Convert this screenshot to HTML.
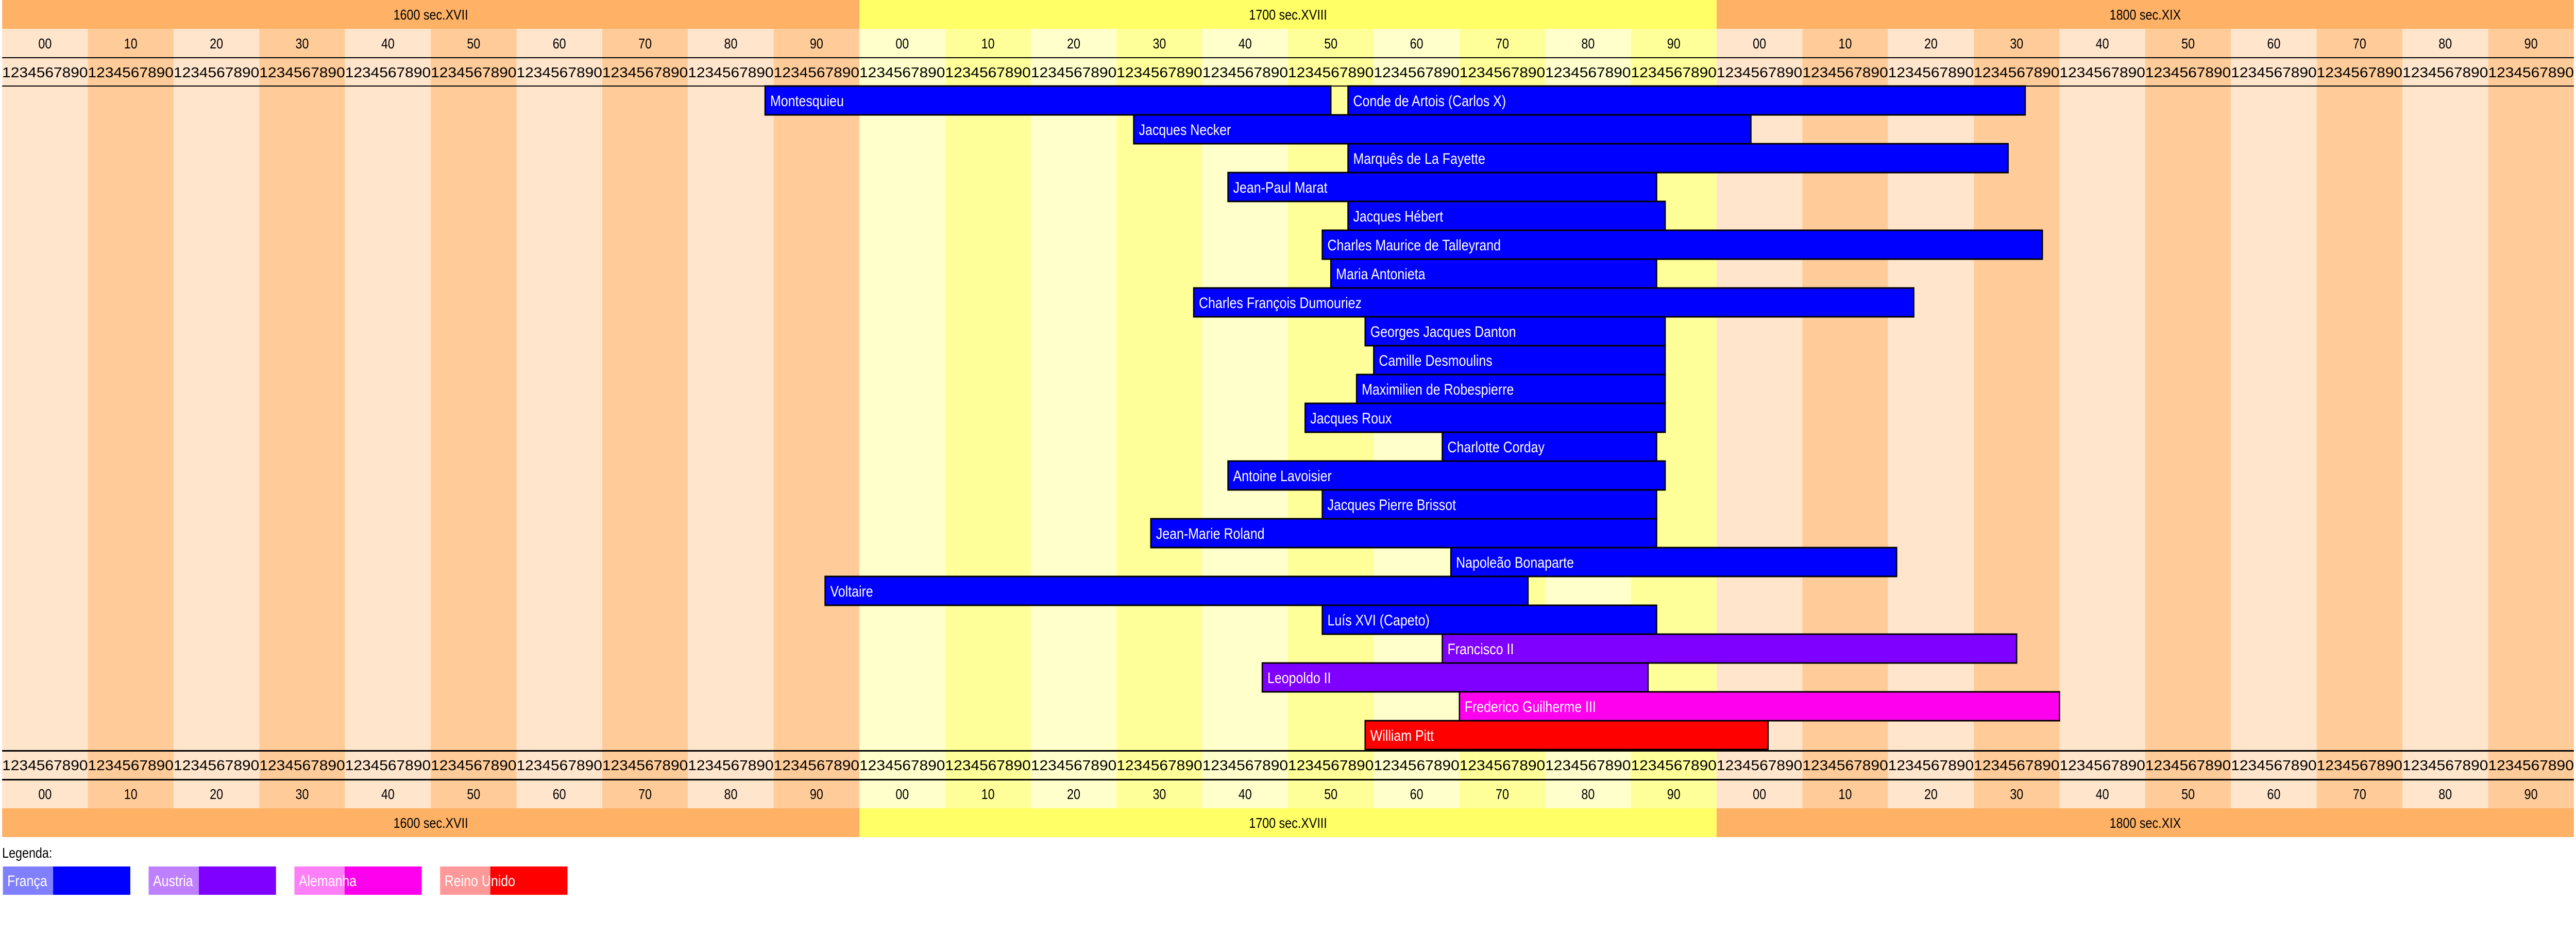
<!DOCTYPE html>
<html><head><meta charset="utf-8">
<style>html,body{margin:0;padding:0;background:#fff;overflow:hidden;width:100%;height:100%}svg{display:block;width:100vw;height:100vh}</style></head>
<body>
<svg xmlns="http://www.w3.org/2000/svg" viewBox="0 0 6010 1848" preserveAspectRatio="none" font-family="Liberation Sans, sans-serif">
<rect width="6010" height="1848" fill="#fff"/>
<rect x="5" y="0" width="2000" height="56" fill="#ffb266"/>
<rect x="2005" y="0" width="2000" height="56" fill="#ffff66"/>
<rect x="4005" y="0" width="2000" height="56" fill="#ffb266"/>
<rect x="5" y="1569" width="2000" height="56" fill="#ffb266"/>
<rect x="2005" y="1569" width="2000" height="56" fill="#ffff66"/>
<rect x="4005" y="1569" width="2000" height="56" fill="#ffb266"/>
<g>
<rect x="5" y="56" width="200" height="1513" fill="#ffe5cc"/><rect x="205" y="56" width="200" height="1513" fill="#ffcc99"/>
<rect x="405" y="56" width="200" height="1513" fill="#ffe5cc"/><rect x="605" y="56" width="200" height="1513" fill="#ffcc99"/>
<rect x="805" y="56" width="200" height="1513" fill="#ffe5cc"/><rect x="1005" y="56" width="200" height="1513" fill="#ffcc99"/>
<rect x="1205" y="56" width="200" height="1513" fill="#ffe5cc"/><rect x="1405" y="56" width="200" height="1513" fill="#ffcc99"/>
<rect x="1605" y="56" width="200" height="1513" fill="#ffe5cc"/><rect x="1805" y="56" width="200" height="1513" fill="#ffcc99"/>
<rect x="2005" y="56" width="200" height="1513" fill="#ffffcc"/><rect x="2205" y="56" width="200" height="1513" fill="#ffff99"/>
<rect x="2405" y="56" width="200" height="1513" fill="#ffffcc"/><rect x="2605" y="56" width="200" height="1513" fill="#ffff99"/>
<rect x="2805" y="56" width="200" height="1513" fill="#ffffcc"/><rect x="3005" y="56" width="200" height="1513" fill="#ffff99"/>
<rect x="3205" y="56" width="200" height="1513" fill="#ffffcc"/><rect x="3405" y="56" width="200" height="1513" fill="#ffff99"/>
<rect x="3605" y="56" width="200" height="1513" fill="#ffffcc"/><rect x="3805" y="56" width="200" height="1513" fill="#ffff99"/>
<rect x="4005" y="56" width="200" height="1513" fill="#ffe5cc"/><rect x="4205" y="56" width="200" height="1513" fill="#ffcc99"/>
<rect x="4405" y="56" width="200" height="1513" fill="#ffe5cc"/><rect x="4605" y="56" width="200" height="1513" fill="#ffcc99"/>
<rect x="4805" y="56" width="200" height="1513" fill="#ffe5cc"/><rect x="5005" y="56" width="200" height="1513" fill="#ffcc99"/>
<rect x="5205" y="56" width="200" height="1513" fill="#ffe5cc"/><rect x="5405" y="56" width="200" height="1513" fill="#ffcc99"/>
<rect x="5605" y="56" width="200" height="1513" fill="#ffe5cc"/><rect x="5805" y="56" width="200" height="1513" fill="#ffcc99"/>
</g>
<g font-size="28" text-anchor="middle" fill="#000" xml:space="preserve">
<text x="1005" y="38">1600   sec.XVII</text><text x="3005" y="38">1700   sec.XVIII</text><text x="5005" y="38">1800   sec.XIX</text>
<text x="1005" y="1607">1600   sec.XVII</text><text x="3005" y="1607">1700   sec.XVIII</text><text x="5005" y="1607">1800   sec.XIX</text>
</g>
<g font-size="28" text-anchor="middle" fill="#000">
<text x="105" y="94">00</text><text x="305" y="94">10</text><text x="505" y="94">20</text><text x="705" y="94">30</text><text x="905" y="94">40</text><text x="1105" y="94">50</text><text x="1305" y="94">60</text><text x="1505" y="94">70</text><text x="1705" y="94">80</text><text x="1905" y="94">90</text>
<text x="2105" y="94">00</text><text x="2305" y="94">10</text><text x="2505" y="94">20</text><text x="2705" y="94">30</text><text x="2905" y="94">40</text><text x="3105" y="94">50</text><text x="3305" y="94">60</text><text x="3505" y="94">70</text><text x="3705" y="94">80</text><text x="3905" y="94">90</text>
<text x="4105" y="94">00</text><text x="4305" y="94">10</text><text x="4505" y="94">20</text><text x="4705" y="94">30</text><text x="4905" y="94">40</text><text x="5105" y="94">50</text><text x="5305" y="94">60</text><text x="5505" y="94">70</text><text x="5705" y="94">80</text><text x="5905" y="94">90</text>
<text x="105" y="1551">00</text><text x="305" y="1551">10</text><text x="505" y="1551">20</text><text x="705" y="1551">30</text><text x="905" y="1551">40</text><text x="1105" y="1551">50</text><text x="1305" y="1551">60</text><text x="1505" y="1551">70</text><text x="1705" y="1551">80</text><text x="1905" y="1551">90</text>
<text x="2105" y="1551">00</text><text x="2305" y="1551">10</text><text x="2505" y="1551">20</text><text x="2705" y="1551">30</text><text x="2905" y="1551">40</text><text x="3105" y="1551">50</text><text x="3305" y="1551">60</text><text x="3505" y="1551">70</text><text x="3705" y="1551">80</text><text x="3905" y="1551">90</text>
<text x="4105" y="1551">00</text><text x="4305" y="1551">10</text><text x="4505" y="1551">20</text><text x="4705" y="1551">30</text><text x="4905" y="1551">40</text><text x="5105" y="1551">50</text><text x="5305" y="1551">60</text><text x="5505" y="1551">70</text><text x="5705" y="1551">80</text><text x="5905" y="1551">90</text>
</g>
<g font-size="28" fill="#000">
<text x="5" y="150" textLength="6000" lengthAdjust="spacingAndGlyphs">123456789012345678901234567890123456789012345678901234567890123456789012345678901234567890123456789012345678901234567890123456789012345678901234567890123456789012345678901234567890123456789012345678901234567890123456789012345678901234567890123456789012345678901234567890123456789012345678901234567890</text>
<text x="5" y="1495" textLength="6000" lengthAdjust="spacingAndGlyphs">123456789012345678901234567890123456789012345678901234567890123456789012345678901234567890123456789012345678901234567890123456789012345678901234567890123456789012345678901234567890123456789012345678901234567890123456789012345678901234567890123456789012345678901234567890123456789012345678901234567890</text>
</g>
<rect x="5" y="111" width="6000" height="2" fill="#000"/>
<rect x="5" y="166" width="6000" height="2" fill="#000"/>
<rect x="5" y="1456" width="6000" height="3" fill="#000"/>
<rect x="5" y="1512" width="6000" height="3" fill="#000"/>
<g stroke="#000" stroke-width="3">
<rect x="1785" y="167" width="1320" height="56" fill="#0000ff"/>
<rect x="3145" y="167" width="1580" height="56" fill="#0000ff"/>
<rect x="2645" y="223" width="1440" height="56" fill="#0000ff"/>
<rect x="3145" y="279" width="1540" height="56" fill="#0000ff"/>
<rect x="2865" y="335" width="1000" height="56" fill="#0000ff"/>
<rect x="3145" y="391" width="740" height="56" fill="#0000ff"/>
<rect x="3085" y="447" width="1680" height="56" fill="#0000ff"/>
<rect x="3105" y="503" width="760" height="56" fill="#0000ff"/>
<rect x="2785" y="559" width="1680" height="56" fill="#0000ff"/>
<rect x="3185" y="615" width="700" height="56" fill="#0000ff"/>
<rect x="3205" y="671" width="680" height="56" fill="#0000ff"/>
<rect x="3165" y="727" width="720" height="56" fill="#0000ff"/>
<rect x="3045" y="783" width="840" height="56" fill="#0000ff"/>
<rect x="3365" y="839" width="500" height="56" fill="#0000ff"/>
<rect x="2865" y="895" width="1020" height="56" fill="#0000ff"/>
<rect x="3085" y="951" width="780" height="56" fill="#0000ff"/>
<rect x="2685" y="1007" width="1180" height="56" fill="#0000ff"/>
<rect x="3385" y="1063" width="1040" height="56" fill="#0000ff"/>
<rect x="1925" y="1119" width="1640" height="56" fill="#0000ff"/>
<rect x="3085" y="1175" width="780" height="56" fill="#0000ff"/>
<rect x="3365" y="1231" width="1340" height="56" fill="#7f00ff"/>
<rect x="2945" y="1287" width="900" height="56" fill="#7f00ff"/>
<rect x="3405" y="1343" width="1400" height="56" fill="#ff00ee"/>
<rect x="3185" y="1399" width="940" height="56" fill="#ff0000"/>
</g>
<g font-size="30" fill="#fff">
<text x="1797" y="206">Montesquieu</text>
<text x="3157" y="206">Conde de Artois (Carlos X)</text>
<text x="2657" y="262">Jacques Necker</text>
<text x="3157" y="318">Marquês de La Fayette</text>
<text x="2877" y="374">Jean-Paul Marat</text>
<text x="3157" y="430">Jacques Hébert</text>
<text x="3097" y="486">Charles Maurice de Talleyrand</text>
<text x="3117" y="542">Maria Antonieta</text>
<text x="2797" y="598">Charles François Dumouriez</text>
<text x="3197" y="654">Georges Jacques Danton</text>
<text x="3217" y="710">Camille Desmoulins</text>
<text x="3177" y="766">Maximilien de Robespierre</text>
<text x="3057" y="822">Jacques Roux</text>
<text x="3377" y="878">Charlotte Corday</text>
<text x="2877" y="934">Antoine Lavoisier</text>
<text x="3097" y="990">Jacques Pierre Brissot</text>
<text x="2697" y="1046">Jean-Marie Roland</text>
<text x="3397" y="1102">Napoleão Bonaparte</text>
<text x="1937" y="1158">Voltaire</text>
<text x="3097" y="1214">Luís XVI (Capeto)</text>
<text x="3377" y="1270">Francisco II</text>
<text x="2957" y="1326">Leopoldo II</text>
<text x="3417" y="1382">Frederico Guilherme III</text>
<text x="3197" y="1438">William Pitt</text>
</g>
<text x="5" y="1665" font-size="28" fill="#000">Legenda:</text>
<rect x="7" y="1682" width="297" height="55" fill="#0000ff"/><rect x="7" y="1682" width="117" height="55" fill="#8080ff"/>
<rect x="347" y="1682" width="297" height="55" fill="#7f00ff"/><rect x="347" y="1682" width="117" height="55" fill="#bf80ff"/>
<rect x="687" y="1682" width="297" height="55" fill="#ff00ee"/><rect x="687" y="1682" width="117" height="55" fill="#ff80f6"/>
<rect x="1027" y="1682" width="297" height="55" fill="#ff0000"/><rect x="1027" y="1682" width="117" height="55" fill="#ff9999"/>
<g font-size="30" fill="#fff">
<text x="17" y="1720">França</text>
<text x="357" y="1720">Austria</text>
<text x="697" y="1720">Alemanha</text>
<text x="1037" y="1720">Reino Unido</text>
</g>
</svg>
</body></html>
